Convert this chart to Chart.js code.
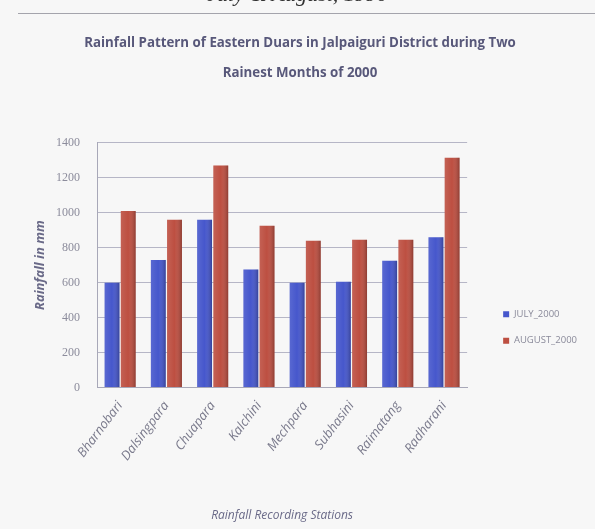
<!DOCTYPE html>
<html>
<head>
<meta charset="utf-8">
<script src="https://cdn.jsdelivr.net/npm/chart.js@4.4.1/dist/chart.umd.min.js"></script>
<style>
html, body { margin: 0; padding: 0; background: #f7f7f7; }
#wrap { position: relative; width: 595px; height: 529px; overflow: hidden; }
#head { position: absolute; left: 0; width: 595px; top: -19px; text-align: center;
        font: italic 22px "Liberation Serif", serif; color: #333; }
#rule { position: absolute; left: 18px; right: 0; top: 13px; height: 1px; background: #a4a4ac; }
canvas { position: absolute; left: 0; top: 0; }
</style>
</head>
<body>
<div id="wrap">
  <canvas id="grafico" width="595" height="529"></canvas>
  <div id="head">July &amp; August, 1990</div>
  <div id="rule"></div>
</div>
<script>
// Estações pluviométricas e chuva (mm) nos dois meses mais chuvosos de 2000
const estacoes = ['Bharnobari', 'Dalsingpara', 'Chuapara', 'Kalchini',
                  'Mechpara', 'Subhasini', 'Raimatang', 'Radharani'];
const julho2000 = [600, 730, 960, 675, 600, 605, 725, 860];
const agosto2000 = [1010, 960, 1270, 925, 840, 845, 845, 1315];
const eixoY = { min: 0, max: 1400, passo: 200 };

const corTexto = '#6a6a88';

// Sombreado simples para dar volume às colunas
const sombraBarras = {
    id: 'sombraBarras',
    afterDatasetsDraw(chart) {
        const ctx = chart.ctx;
        chart.data.datasets.forEach((ds, i) => {
            chart.getDatasetMeta(i).data.forEach(bar => {
                const left = bar.x - bar.width / 2;
                const w = bar.width;
                const h = bar.base - bar.y;
                const g = ctx.createLinearGradient(left, 0, left + w, 0);
                g.addColorStop(0, 'rgba(255,255,255,0.10)');
                g.addColorStop(0.5, 'rgba(255,255,255,0)');
                g.addColorStop(1, 'rgba(0,0,0,0.25)');
                ctx.save();
                ctx.fillStyle = g;
                ctx.fillRect(left, bar.y, w, h);
                ctx.restore();
            });
        });
    }
};

// Empurra a legenda para baixo e para a direita, fora da área do gráfico
const posLegenda = {
    id: 'posLegenda',
    afterLayout(chart) {
        const lg = chart.legend;
        if (!lg) return;
        lg.top += 66; lg.bottom += 66;
        lg.left += 19; lg.right += 19;
    }
};

new Chart(document.getElementById('grafico'), {
    type: 'bar',
    data: {
        labels: estacoes,
        datasets: [
            { label: 'JULY_2000', data: julho2000, backgroundColor: '#4657cc' },
            { label: 'AUGUST_2000', data: agosto2000, backgroundColor: '#bd4f41' }
        ]
    },
    options: {
        responsive: false,
        animation: false,
        categoryPercentage: 0.7,
        barPercentage: 0.92,
        layout: { padding: { left: 32, right: 27, top: 0, bottom: 6 } },
        plugins: {
            title: {
                display: true,
                text: ['Rainfall Pattern of Eastern Duars in Jalpaiguri District during Two',
                       'Rainest Months of 2000'],
                color: '#58587a',
                font: { family: '"Open Sans", sans-serif', size: 13.3, weight: 'bold', lineHeight: 2.25 },
                padding: { top: 28, bottom: 55 }
            },
            legend: {
                position: 'right',
                labels: {
                    boxWidth: 6, boxHeight: 6, padding: 17,
                    color: '#8a8a9a',
                    font: { family: '"Open Sans", sans-serif', size: 9.5 }
                }
            },
            tooltip: { enabled: false }
        },
        scales: {
            x: {
                grid: { display: false },
                border: { color: '#a8a8b8' },
                ticks: {
                    maxRotation: 53, minRotation: 53,
                    color: '#7a7a8c',
                    font: { family: '"Open Sans", sans-serif', size: 13, style: 'italic' }
                },
                title: {
                    display: true,
                    text: 'Rainfall Recording Stations',
                    color: corTexto,
                    font: { family: '"Open Sans", sans-serif', size: 12, style: 'italic' },
                    padding: { top: 42, bottom: 0 }
                }
            },
            y: {
                min: eixoY.min,
                max: eixoY.max,
                afterFit(scale) { scale.width = 65; },
                grid: { color: '#b6b6c6', drawTicks: false },
                border: { color: '#a8a8b8' },
                ticks: {
                    stepSize: eixoY.passo,
                    padding: 17,
                    color: '#8c8c9c',
                    font: { family: '"Liberation Serif", serif', size: 12 },
                    callback: v => String(v)
                },
                title: {
                    display: true,
                    text: 'Rainfall in mm',
                    color: corTexto,
                    font: { family: '"Open Sans", sans-serif', size: 13, style: 'italic', weight: 'bold' },
                    padding: { top: 0, bottom: 8 }
                }
            }
        }
    },
    plugins: [sombraBarras, posLegenda]
});
</script>
</body>
</html>
